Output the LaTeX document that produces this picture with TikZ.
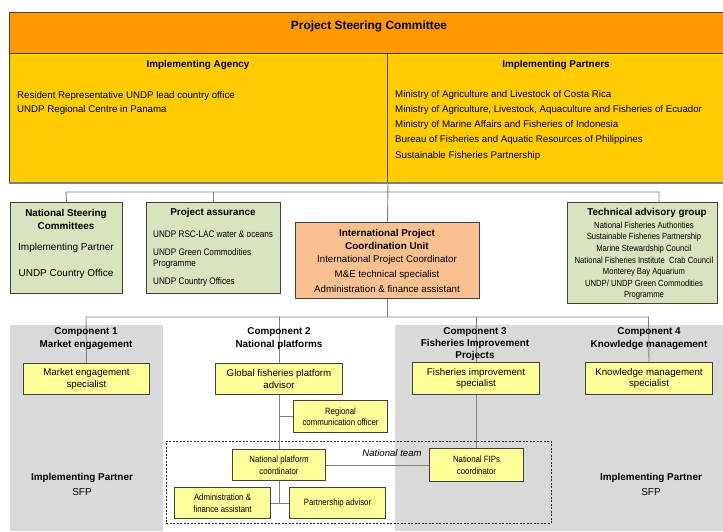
\documentclass[tikz,border=0pt]{standalone}
\usepackage{fontspec}
\setmainfont{Liberation Sans}
\newfontfamily\nf[FakeStretch=0.86]{Liberation Sans}
\definecolor{orng}{HTML}{FF9900}
\definecolor{ylw}{HTML}{FFCC00}
\definecolor{grn}{HTML}{D7E4BD}
\definecolor{lorng}{HTML}{FAC090}
\definecolor{lylw}{HTML}{FFFF99}
\definecolor{pnl}{HTML}{D9D9D9}
\definecolor{ln}{HTML}{808080}
\definecolor{bd}{HTML}{404040}
\begin{document}
\begin{tikzpicture}[x=1pt,y=-1pt,
  rbox/.style={draw=bd, line width=1pt, inner sep=0, anchor=north west, align=center},
  conn/.style={draw=ln, line width=0.9pt},
  ttl/.style={font=\bfseries\fontsize{9.9}{13}\selectfont, inner sep=0, align=center, yshift=-1.5pt},
  txt/.style={font=\fontsize{9.7}{11}\selectfont, inner sep=0, yshift=-1.5pt},
  ntxt/.style={font=\nf\fontsize{9.5}{11}\selectfont, inner sep=0, yshift=-1.5pt},
  stxt/.style={font=\nf\fontsize{8.9}{11}\selectfont, inner sep=0, yshift=-1.5pt},
  smallbox/.style={rbox, fill=lylw, font=\fontsize{9.7}{11.5}\selectfont},
  tinybox/.style={rbox, fill=lylw, font=\nf\fontsize{9.1}{11.5}\selectfont}
]
\useasboundingbox (0,0) rectangle (723,531);
% panels
\node[fill=pnl, inner sep=0, anchor=north west, minimum width=153, minimum height=206] (pnl1) at (10,325) {};
\node[fill=pnl, inner sep=0, anchor=north west, minimum width=328, minimum height=206] (pnl34) at (395,325) {};
% dashed team box
\node[draw=black!85, dash pattern=on 2pt off 1.5pt, line width=0.8pt, inner sep=0, anchor=north west, minimum width=385, minimum height=82] (team) at (166,441) {};
% top boxes
\node[rbox, fill=orng, minimum width=714, minimum height=41] (psc) at (9,12) {};
\node[rbox, fill=ylw, minimum width=378, minimum height=129] (ia) at (9,53) {};
\node[rbox, fill=ylw, minimum width=336, minimum height=129] (ip) at (387,53) {};
\draw[ln, line width=1.6pt] (ia.south west) -- (ip.south east);
% second row boxes
\node[rbox, fill=grn, minimum width=112, minimum height=91] (nsc) at (10,202) {};
\node[rbox, fill=grn, minimum width=134, minimum height=91] (pa) at (146,202) {};
\node[rbox, fill=lorng, minimum width=184, minimum height=76] (ipcu) at (295,222) {};
\node[rbox, fill=grn, minimum width=150, minimum height=101] (tag) at (567,202) {};
% component boxes
\node[smallbox, minimum width=126, minimum height=31] (mes) at (23,363) {Market engagement\\specialist};
\node[smallbox, minimum width=127, minimum height=31] (gfpa) at (215,363) {Global fisheries platform\\advisor};
\node[smallbox, minimum width=127, minimum height=32] (fis) at (412,362) {Fisheries improvement\\specialist};
\node[smallbox, minimum width=127, minimum height=32] (kms) at (585,362) {Knowledge management\\specialist};
\node[tinybox, minimum width=94, minimum height=32] (rco) at (293,400) {Regional\\communication officer};
\node[tinybox, minimum width=93, minimum height=31] (npc) at (232,449) {National platform\\coordinator};
\node[tinybox, minimum width=94, minimum height=33] (nfc) at (429,448) {National FIPs\\coordinator};
\node[tinybox, minimum width=96, minimum height=31] (afa) at (174,487) {Administration \&\\finance assistant};
\node[tinybox, minimum width=96, minimum height=31] (pad) at (289,487) {Partnership advisor};
% connector coordinates
\coordinate (barAL) at (66,192);
\coordinate (barAR) at (659,192);
\coordinate (tagin) at (659,202);
\coordinate (barBL) at (86,317);
\coordinate (barBR) at (648.5,317);
% connectors
\draw[conn] (ia.south east) -- (ipcu.north);
\draw[conn] (nsc.north) -- (barAL) -- (barAR) -- (tagin);
\draw[conn] (pa.north) -- (pa.north |- barAL);
\draw[conn] (ipcu.south) -- (ipcu.south |- barBL);
\draw[conn] (mes.north) -- (barBL) -- (barBR) -- (kms.north);
\draw[conn] (gfpa.north) -- (gfpa.north |- barBL);
\draw[conn] (fis.north) -- (fis.north |- barBL);
\draw[conn] (gfpa.south) -- (npc.north);
\draw[conn] (rco.west) -- (rco.west -| gfpa.south);
\draw[conn] (npc.east) -- (nfc.west);
\draw[conn] (fis.south) -- (fis.south |- nfc.north);
\draw[conn] (npc.south) -- (npc.south |- afa.east);
\draw[conn] (afa.east) -- (pad.west);
% top texts
\node[font=\bfseries\fontsize{11.9}{13}\selectfont, inner sep=0, yshift=-2pt] (pscT) at (369,24) {Project Steering Committee};
\node[ttl] (iaT) at (198,63) {Implementing Agency};
\node[ttl] (ipT) at (556,63) {Implementing Partners};
\node[txt, anchor=west] (ia1) at (17,94) {Resident Representative UNDP lead country office};
\node[txt, anchor=west] (ia2) at (17,108) {UNDP Regional Centre in Panama};
\foreach \t/\y [count=\i] in {{Ministry of Agriculture and Livestock of Costa Rica}/93,
  {Ministry of Agriculture, Livestock, Aquaculture and Fisheries of Ecuador}/108,
  {Ministry of Marine Affairs and Fisheries of Indonesia}/123,
  {Bureau of Fisheries and Aquatic Resources of Philippines}/138,
  {Sustainable Fisheries Partnership}/154}
  \node[txt, anchor=west] (ip\i) at (395,\y) {\t};
% NSC
\node[ttl] (nscT) at (66,217.5) {National Steering\\Committees};
\node[txt, font=\fontsize{10}{11}\selectfont] (nsc1) at (66,246) {Implementing Partner};
\node[txt, font=\fontsize{10}{11}\selectfont] (nsc2) at (66,272) {UNDP Country Office};
% PA
\node[ttl] (paT) at (213,211) {Project assurance};
\node[ntxt, anchor=west] (pa1) at (153,233) {UNDP RSC-LAC water \& oceans};
\node[ntxt, anchor=west] (pa2) at (153,251) {UNDP Green Commodities};
\node[ntxt, anchor=west] (pa3) at (153,263) {Programme};
\node[ntxt, anchor=west] (pa4) at (153,281) {UNDP Country Offices};
% IPCU
\node[ttl] (ipcuT) at (387,237.5) {International Project\\Coordination Unit};
\node[txt] (ipcu1) at (387,258) {International Project Coordinator};
\node[txt] (ipcu2) at (387,273) {M\&E technical specialist};
\node[txt] (ipcu3) at (387,288) {Administration \& finance assistant};
% TAG
\node[ttl] (tagT) at (647,211) {Technical advisory group};
\foreach \t/\y [count=\i] in {{National Fisheries Authorities}/224.3,
  {Sustainable Fisheries Partnership}/235.7,
  {Marine Stewardship Council}/247.3,
  {National Fisheries Institute\ \ Crab Council}/259,
  {Monterey Bay Aquarium}/271,
  {UNDP/ UNDP Green Commodities}/282.3,
  {Programme}/294.3}
  \node[stxt] (tag\i) at (644,\y) {\t};
% component titles
\node[ttl] (c1T) at (86,337.5) {Component 1\\Market engagement};
\node[ttl] (c2T) at (279,337.5) {Component 2\\National platforms};
\node[ttl, font=\bfseries\fontsize{9.9}{12}\selectfont] (c3T) at (475,343) {Component 3\\Fisheries Improvement\\Projects};
\node[ttl] (c4T) at (649,337.5) {Component 4\\Knowledge management};
% team label
\node[txt, font=\itshape\fontsize{9.6}{11}\selectfont] (teamT) at (392,452) {National team};
% implementing partners in panels
\node[ttl] (p1a) at (82,476) {Implementing Partner};
\node[txt, font=\fontsize{10}{11}\selectfont] (p1b) at (82,491) {SFP};
\node[ttl] (p4a) at (651,476) {Implementing Partner};
\node[txt, font=\fontsize{10}{11}\selectfont] (p4b) at (651,491) {SFP};
\end{tikzpicture}
\end{document}
